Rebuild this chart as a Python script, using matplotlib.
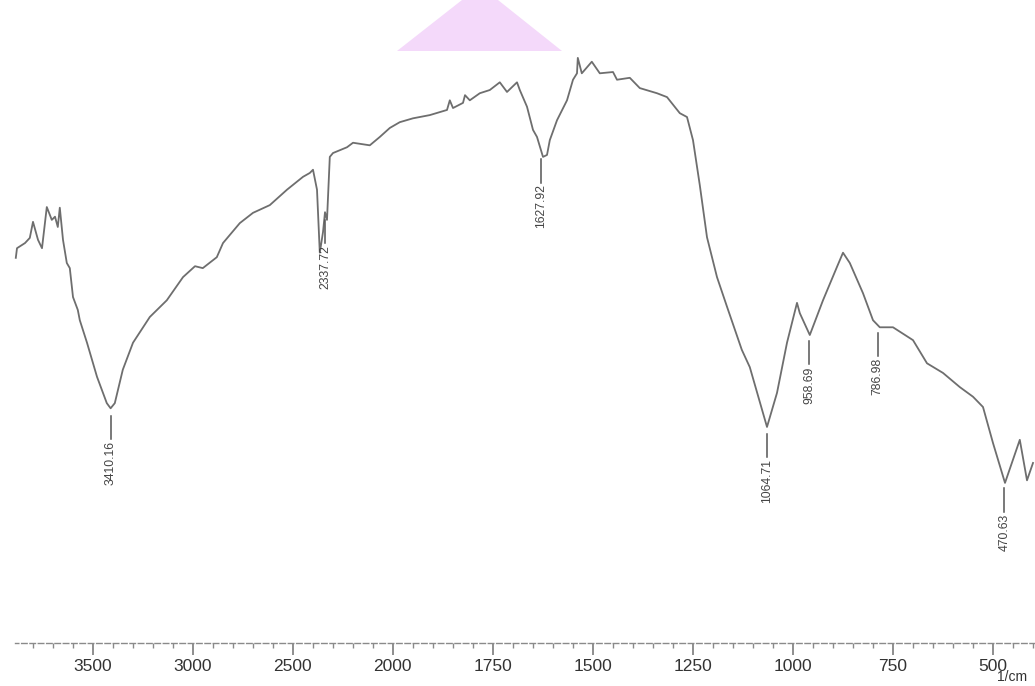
#!/usr/bin/env python3

import numpy as np
from matplotlib import pyplot as plt
from matplotlib.patches import Polygon

plt.rcParams["font.family"] = ["Liberation Sans", "DejaVu Sans"]

out_filename = "out.png"

# FTIR spectrum: wavenumber (1/cm) and transmittance (%)
wavenumber = [
    3884, 3878, 3838, 3814, 3798, 3773, 3753, 3729, 3704, 3688, 3674, 3664,
    3648, 3629, 3614, 3598, 3574, 3564, 3528, 3478, 3429, 3410, 3389, 3349,
    3298, 3214, 3129, 3048, 2988, 2949, 2879, 2848, 2764, 2698, 2614, 2528,
    2448, 2414, 2398, 2378, 2364, 2348, 2338, 2328, 2314, 2298, 2228, 2198,
    2114, 2064, 2014, 1982, 1949, 1907, 1864, 1857, 1849, 1824, 1819, 1807,
    1782, 1757, 1732, 1714, 1689, 1682, 1664, 1649, 1639, 1624, 1614, 1607,
    1589, 1564, 1549, 1539, 1537, 1527, 1502, 1482, 1449, 1439, 1407, 1382,
    1339, 1314, 1282, 1264, 1249, 1232, 1214, 1189, 1164, 1127, 1107, 1064,
    1039, 1014, 989, 982, 957, 924, 889, 874, 857, 824, 799, 782, 749, 699,
    664, 624, 582, 549, 524, 499, 469, 432, 414, 399,
]
transmittance = [
    59.9, 61.4, 62.2, 63.0, 65.5, 62.7, 61.4, 67.8, 65.8, 66.3, 64.7, 67.7,
    62.7, 59.1, 58.3, 53.8, 51.8, 50.2, 46.7, 41.4, 37.3, 36.5, 37.3, 42.5,
    46.7, 50.7, 53.3, 56.9, 58.6, 58.3, 60.0, 62.2, 65.3, 66.9, 68.1, 70.5,
    72.5, 73.1, 73.6, 70.5, 60.7, 63.9, 67.0, 65.8, 75.6, 76.2, 77.1, 77.8,
    77.4, 78.7, 80.1, 81.0, 81.6, 82.1, 82.9, 84.4, 83.2, 84.0, 85.2, 84.4,
    85.5, 86.0, 87.2, 85.7, 87.2, 86.0, 83.4, 79.8, 78.7, 75.6, 75.9, 78.2,
    81.3, 84.4, 87.6, 88.6, 91.0, 88.6, 90.4, 88.6, 88.8, 87.6, 87.9, 86.3,
    85.5, 84.9, 82.4, 81.8, 78.2, 71.2, 63.1, 56.9, 52.3, 45.6, 42.9, 33.6,
    38.9, 46.7, 52.9, 51.3, 47.9, 53.3, 58.5, 60.7, 59.1, 54.4, 50.2, 49.1,
    49.1, 47.1, 43.5, 42.0, 39.8, 38.3, 36.7, 31.1, 24.9, 31.6, 25.3, 28.0,
]

peak_labels = ["3410.16", "2337.72", "1627.92", "1064.71", "958.69", "786.98", "470.63"]
peak_positions = [3410.16, 2337.72, 1627.92, 1064.71, 958.69, 786.98, 470.63]

major_ticks = [3500, 3000, 2500, 2000, 1750, 1500, 1250, 1000, 750, 500]


# Shimadzu chart: the scale below 2000 1/cm is stretched two times
def forward(x):
    x = np.asarray(x, dtype=float)
    return np.where(x < 2000, 2 * x, x + 2000)


def inverse(t):
    t = np.asarray(t, dtype=float)
    return np.where(t < 4000, t / 2, t - 2000)


def main():
    fig = plt.figure(figsize=(10.35, 6.86), dpi=100)
    ax = fig.add_axes([0, 43 / 686, 1, 643 / 686])
    ax.set_xscale("function", functions=(forward, inverse))
    ax.set_xlim(3963, 394)
    ax.set_ylim(0, 100)

    line_color = "#6e6e6e"
    ax.plot(wavenumber, transmittance, color=line_color, linewidth=1.3)

    # peak markers with rotated labels
    for label, pos in zip(peak_labels, peak_positions):
        y = np.interp(pos, wavenumber[::-1], transmittance[::-1])
        top = y - 1.2
        bottom = top - 3.6
        ax.plot([pos, pos], [top, bottom], color="#555555", linewidth=1.1)
        ax.text(
            pos,
            bottom - 0.3,
            label,
            rotation=90,
            ha="center",
            va="top",
            fontsize=8.8,
            color="#444444",
        )

    for side in ("top", "left", "right"):
        ax.spines[side].set_visible(False)
    ax.spines["bottom"].set_bounds(394, 3888)
    ax.spines["bottom"].set_color("#8a8a8a")
    ax.spines["bottom"].set_linestyle((0, (4, 2)))
    ax.spines["bottom"].set_linewidth(1.0)

    ax.set_yticks([])
    ax.set_xticks(major_ticks)
    ax.set_xticklabels([str(t) for t in major_ticks])
    minor = list(range(3800, 2000, -100)) + list(range(1950, 394, -50))
    minor = [m for m in minor if m not in major_ticks]
    ax.set_xticks(minor, minor=True)
    ax.tick_params(
        axis="x",
        which="major",
        direction="out",
        length=8.5,
        width=1.1,
        color="#707070",
        pad=3,
        labelsize=12.5,
        labelcolor="#333333",
    )
    ax.tick_params(
        axis="x", which="minor", direction="out", length=3.5, width=1.0, color="#8a8a8a"
    )

    fig.text(997 / 1035, 1 - 677 / 686, "1/cm", fontsize=10, color="#333333",
             ha="left", va="center")

    # pink triangle shape at the top of the scan
    tri = [(397, 51), (462, 0), (498, 0), (562, 51)]
    tri = [(x / 1035, 1 - y / 686) for x, y in tri]
    fig.patches.append(
        Polygon(tri, closed=True, transform=fig.transFigure, facecolor="#f4d9fa",
                edgecolor="none", zorder=0)
    )

    fig.savefig(out_filename, dpi=100)


if __name__ == "__main__":
    main()
